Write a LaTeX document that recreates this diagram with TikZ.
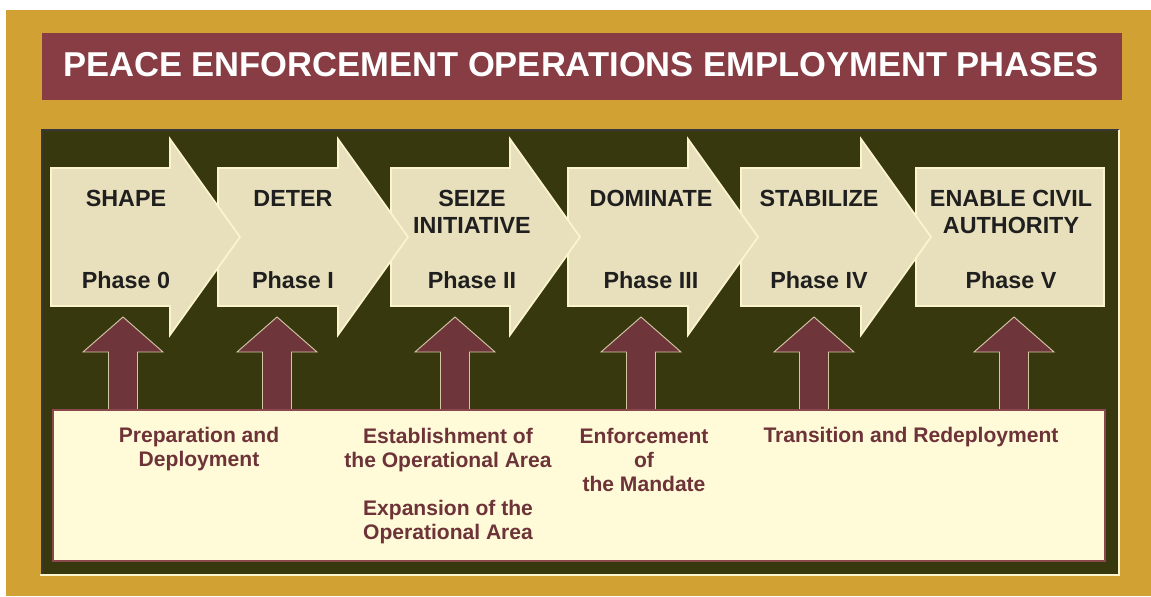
\documentclass[tikz,border=0pt]{standalone}
\usepackage{fontspec}
\setmainfont{Liberation Sans}
\definecolor{gold}{HTML}{D2A134}
\definecolor{wine}{HTML}{873D43}
\definecolor{olivebg}{HTML}{38380F}
\definecolor{parch}{HTML}{E8E0BC}
\definecolor{rim}{HTML}{FBF4CC}
\definecolor{brick}{HTML}{6E363B}
\definecolor{tanrim}{HTML}{D3C6A4}
\definecolor{cream}{HTML}{FFFAD8}
\definecolor{wineline}{HTML}{8A474C}
\definecolor{winetext}{HTML}{6E3338}

\begin{document}
\begin{tikzpicture}[
x=0.75pt,y=-0.75pt,
phs/.style={
  fill=parch,
  draw=rim,
  line width=1.3pt
},
upar/.style={
  fill=brick,
  draw=tanrim,
  line width=0.7pt
},
ptxt/.style={
  font=\bfseries\fontsize{17.5}{20.25}\selectfont,
  text=black!88,
  align=center,
  inner sep=0pt
},
ttxt/.style={
  font=\bfseries\fontsize{15.8}{18}\selectfont,
  text=winetext,
  align=center,
  inner sep=0pt,
  anchor=north
}
]
\useasboundingbox[fill=white] (0,0) rectangle (1151,596);
\fill[gold] (6,10) rectangle (1151,596);
\fill[wine] (42,33) rectangle (1122,100);
\fill[olivebg] (42,130) rectangle (1119,575);
\draw[black!78,line width=1.2pt] (42,575) -- (42,130) -- (1119,130);
\draw[rim,line width=0.9pt] (40,575) -- (1119,575) -- (1119,130);

\node[font=\bfseries\fontsize{25.9}{31}\selectfont,text=white,inner sep=0pt]
  (title) at (581,65) {PEACE ENFORCEMENT OPERATIONS EMPLOYMENT PHASES};

\draw[phs] (916,168) rectangle (1104,306);
\foreach \l/\b in {741/861,568/688,391/510,218/338,51/170}
  \draw[phs] (\l,168) -- (\b,168) -- (\b,139) -- (\b+70,237)
    -- (\b,335) -- (\b,306) -- (\l,306) -- cycle;

\foreach \x in {123,277,455,641,814,1014}
  \draw[upar] (\x-14.5,412) -- (\x-14.5,352) -- (\x-40,352) -- (\x,317)
    -- (\x+40,352) -- (\x+14.5,352) -- (\x+14.5,412) -- cycle;

\draw[fill=cream,draw=wineline,line width=1.6pt] (53,410) rectangle (1105,561);

\node[ptxt] (n0) at (126,198.5) {SHAPE};
\node[ptxt] (n1) at (293,198.5) {DETER};
\node[ptxt] (n2) at (472,212) {SEIZE\\INITIATIVE};
\node[ptxt] (n3) at (651,198.5) {DOMINATE};
\node[ptxt] (n4) at (819,198.5) {STABILIZE};
\node[ptxt] (n5) at (1011,212) {ENABLE CIVIL\\AUTHORITY};

\node[ptxt] (p0) at (126,280) {Phase 0};
\node[ptxt] (p1) at (293,280) {Phase I};
\node[ptxt] (p2) at (472,280) {Phase II};
\node[ptxt] (p3) at (651,280) {Phase III};
\node[ptxt] (p4) at (819,280) {Phase IV};
\node[ptxt] (p5) at (1011,280) {Phase V};

\node[ttxt] (prep) at (199,427)
  {Preparation and\\Deployment};
\node[ttxt] (estab) at (448,428)
  {Establishment of\\the Operational Area};
\node[ttxt] (expan) at (448,500)
  {Expansion of the\\Operational Area};
\node[ttxt] (enforce) at (644,428)
  {Enforcement\\of\\the Mandate};
\node[ttxt] (trans) at (911,426.5)
  {Transition and Redeployment};
\end{tikzpicture}
\end{document}
